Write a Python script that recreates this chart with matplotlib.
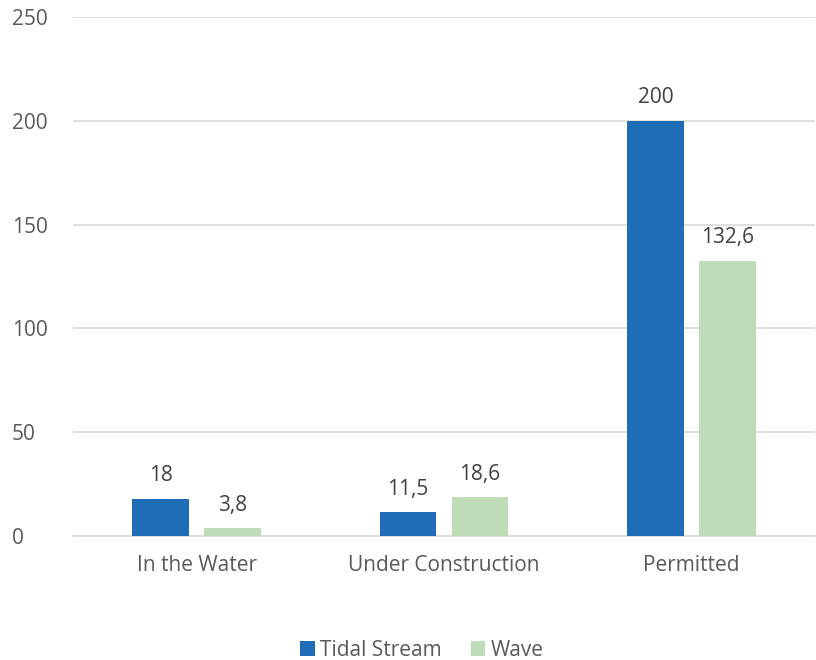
import matplotlib.pyplot as plt
import numpy as np

plt.rcParams["font.family"] = ["Open Sans", "DejaVu Sans"]

categories = ["In the Water", "Under Construction", "Permitted"]
tidal = [18, 11.5, 200]
wave = [3.8, 18.6, 132.6]
tidal_labels = ["18", "11,5", "200"]
wave_labels = ["3,8", "18,6", "132,6"]

BLUE = "#1f6db6"
GREEN = "#bfdcb9"
GRID = "#d9d9d9"
TICK = "#595959"
LABEL = "#404040"
FS = 15

fig = plt.figure(figsize=(8.16, 6.6), dpi=100)
ax = fig.add_axes([73 / 816, 1 - 536 / 660, 742 / 816, 519 / 660])

x = np.arange(len(categories))
w = 0.229
off = 0.145
b1 = ax.bar(x - off, tidal, w, color=BLUE, label="Tidal Stream", zorder=3)
b2 = ax.bar(x + off, wave, w, color=GREEN, label="Wave", zorder=3)

for bars, labs in ((b1, tidal_labels), (b2, wave_labels)):
    for rect, lab in zip(bars, labs):
        ax.text(rect.get_x() + rect.get_width() / 2, rect.get_height() + 6, lab,
                ha="center", va="bottom", fontsize=FS, color=LABEL)

ax.set_xlim(-0.5, 2.5)
ax.set_ylim(0, 250)
ax.set_yticks(range(0, 251, 50))
ax.set_xticks(x)
ax.set_xticklabels(categories)
ax.tick_params(axis="both", length=0, labelsize=FS, colors=TICK)
ax.tick_params(axis="x", pad=14)
ax.tick_params(axis="y", pad=44)
for lab in ax.get_yticklabels():
    lab.set_horizontalalignment("left")
ax.yaxis.grid(True, color=GRID, lw=1.2, zorder=0)
for s in ("top", "right", "left"):
    ax.spines[s].set_visible(False)
ax.spines["bottom"].set_color(GRID)
ax.spines["bottom"].set_linewidth(1.2)

fig.legend(loc="center", bbox_to_anchor=(422 / 816, 1 - 650 / 660), ncol=2,
           frameon=False, fontsize=FS, labelcolor=TICK, handlelength=0.7,
           handleheight=0.7, handletextpad=0.25, columnspacing=1.4)

fig.savefig("out.png", dpi=100)
